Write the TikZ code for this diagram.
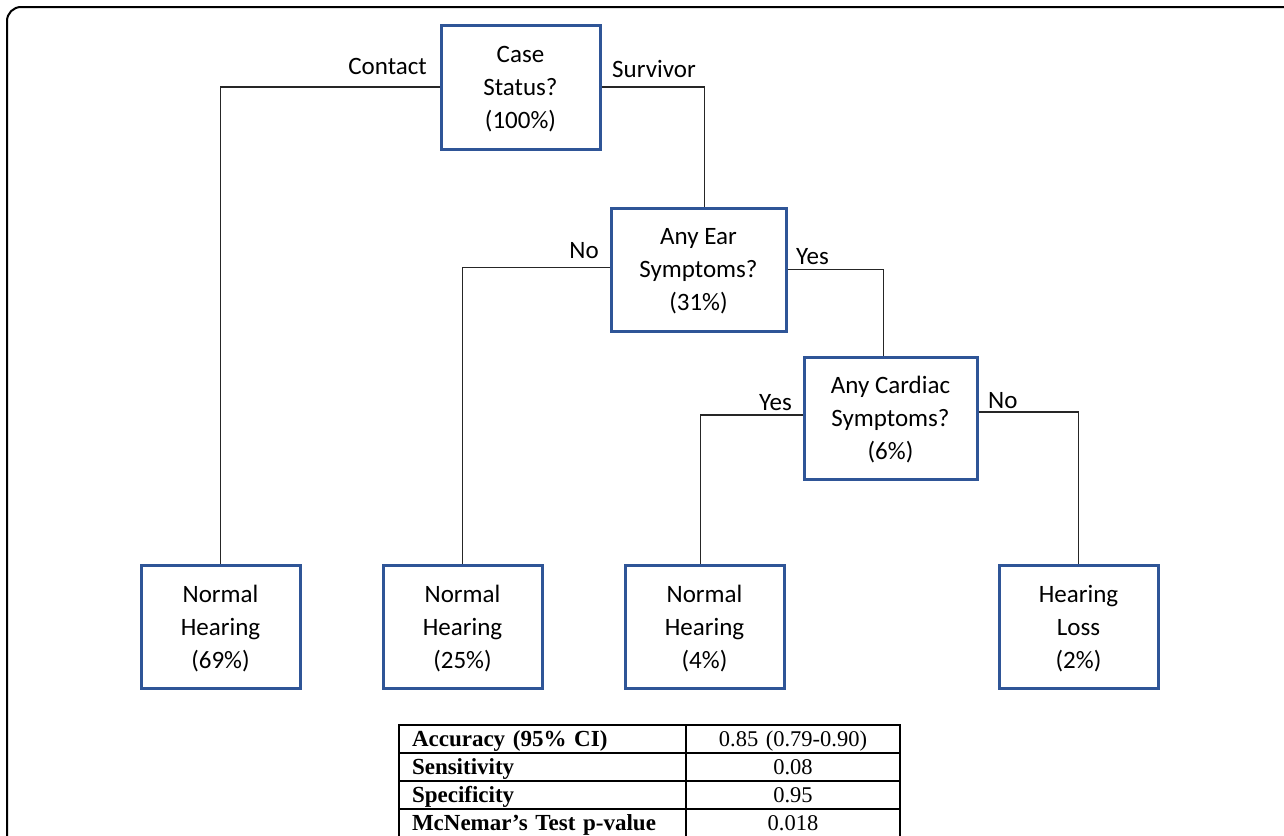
\documentclass[tikz,border=0pt]{standalone}
\usepackage{fontspec}
\setmainfont{Carlito}
\newfontfamily\tabfont{Liberation Serif}
\definecolor{boxblue}{RGB}{47,85,151}
\begin{document}
\begin{tikzpicture}[x=1pt,y=-1pt,
  tbox/.style={draw=boxblue, line width=3pt, rectangle, inner sep=0pt,
    align=center, text depth=0pt, font=\fontsize{25}{33}\selectfont},
  leaf/.style={tbox, minimum width=159pt, minimum height=123pt},
  conn/.style={draw=black!85, line width=1.3pt},
  blabel/.style={font=\fontsize{25}{30}\selectfont, inner sep=0pt},
  cellL/.style={draw=black, line width=1.5pt, rectangle, inner ysep=0pt, inner xsep=13pt,
    text width=261pt, align=left, minimum height=28pt, text height=19pt, text depth=4pt,
    font=\tabfont\fontsize{23}{26}\selectfont\bfseries},
  cellR/.style={draw=black, line width=1.5pt, rectangle, inner ysep=0pt, inner xsep=0pt,
    text width=214pt, align=center, minimum height=28pt, text height=19pt, text depth=4pt,
    font=\tabfont\fontsize{22.5}{26}\selectfont}]
\useasboundingbox (0,0) rectangle (1284,835);
\clip (0,0) rectangle (1284,835);
% outer frame
\draw[line width=2pt, rounded corners=14pt] (7,860) -- (7,7) -- (1300,7);

% decision nodes
\node[tbox, minimum width=159pt, minimum height=124pt] (case) at (520.5,87) {Case\\Status?\\(100\%)};
\node[tbox, minimum width=175pt, minimum height=123pt] (ear) at (698.5,269.5) {Any Ear\\Symptoms?\\(31\%)};
\node[tbox, minimum width=173pt, minimum height=122pt] (card) at (890.5,418) {Any Cardiac\\Symptoms?\\(6\%)};

% leaves
\node[leaf] (l1) at (220.5,626.5) {Normal\\Hearing\\(69\%)};
\node[leaf] (l2) at (462.5,626.5) {Normal\\Hearing\\(25\%)};
\node[leaf] (l3) at (704.5,626.5) {Normal\\Hearing\\(4\%)};
\node[leaf] (l4) at (1078.5,626.5) {Hearing\\Loss\\(2\%)};

% connectors
\draw[conn] (case.west) -| (l1.north);
\draw[conn] (case.east) -| ([xshift=6pt]ear.north);
\draw[conn] ([yshift=2pt]ear.west) -| (l2.north);
\draw[conn] (ear.east) -| ([xshift=-7pt]card.north);
\draw[conn] ([yshift=3pt]card.west) -| ([xshift=-4pt]l3.north);
\draw[conn] ([yshift=6pt]card.east) -| (l4.north);

% branch labels
\node[blabel, anchor=base east] (lbcontact) at (427,74) {Contact};
\node[blabel, anchor=base west] (lbsurv) at (612,77) {Survivor};
\node[blabel, anchor=base east] (lbno1) at (599,258) {No};
\node[blabel, anchor=base west] (lbyes1) at (796,264) {Yes};
\node[blabel, anchor=base east] (lbyes2) at (792,410) {Yes};
\node[blabel, anchor=base west] (lbno2) at (988,408) {No};

% table
\node[cellL] (t1a) at (542.5,739) {Accuracy (95\% CI)};
\node[cellR] (t1b) at (793,739) {0.85 (0.79-0.90)};
\node[cellL] (t2a) at (542.5,767) {Sensitivity};
\node[cellR] (t2b) at (793,767) {0.08};
\node[cellL] (t3a) at (542.5,795) {Specificity};
\node[cellR] (t3b) at (793,795) {0.95};
\node[cellL] (t4a) at (542.5,823) {McNemar’s Test p-value};
\node[cellR] (t4b) at (793,823) {0.018};
\end{tikzpicture}
\end{document}
